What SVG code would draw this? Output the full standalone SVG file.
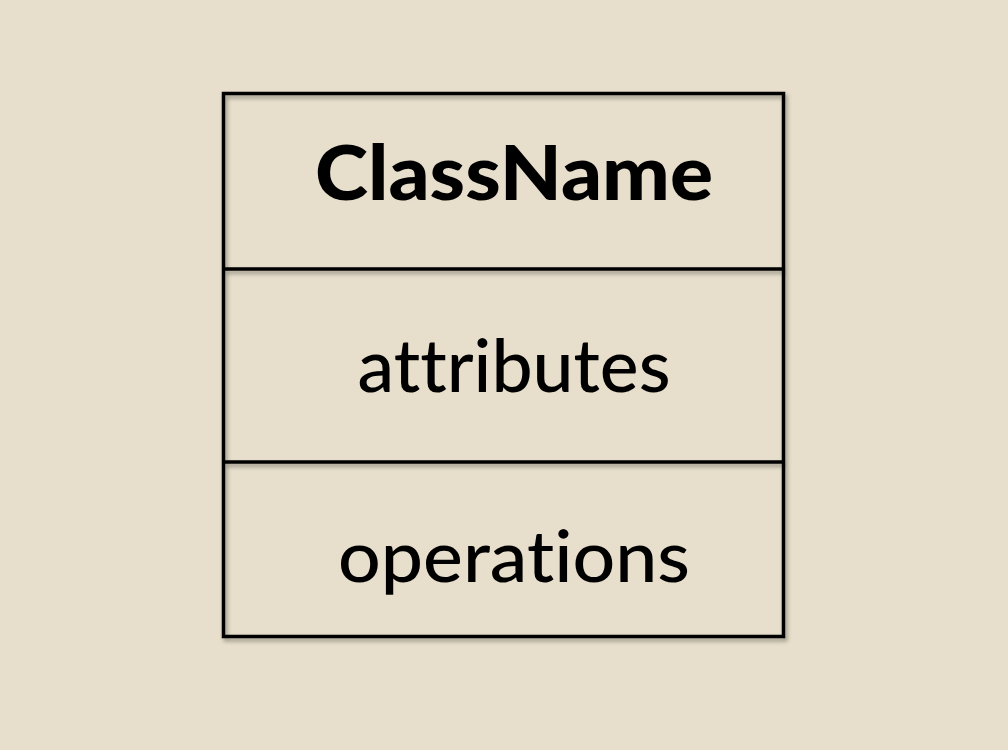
<svg xmlns="http://www.w3.org/2000/svg" width="1008" height="750" viewBox="0 0 1008 750">
<defs>
<style>
.box{fill:none;stroke:#000;stroke-width:3.5}
.t{font-family:"Lato","DejaVu Sans",sans-serif;fill:#000;text-anchor:middle;font-variant-ligatures:none;font-feature-settings:"liga" 0,"clig" 0}
</style>
<filter id="sh" x="-5%" y="-5%" width="110%" height="110%">
<feDropShadow dx="2" dy="3" stdDeviation="2" flood-color="#000" flood-opacity="0.35"/>
</filter>
</defs>
<rect width="1008" height="750" fill="#E7DFCC"/>
<g id="class" filter="url(#sh)">
<rect class="box" x="223.5" y="93.5" width="560" height="543"/>
<line class="box" x1="223.5" y1="269" x2="783.5" y2="269"/>
<line class="box" x1="223.5" y1="462" x2="783.5" y2="462"/>
</g>
<g id="name"><text class="t" x="514" y="200" font-size="77" font-weight="900" textLength="398" lengthAdjust="spacingAndGlyphs">ClassName</text></g>
<g id="attrs"><text class="t" x="514" y="392" font-size="74" font-weight="500" textLength="313" lengthAdjust="spacingAndGlyphs">attributes</text></g>
<g id="ops"><text class="t" x="514" y="582" font-size="72" font-weight="500" textLength="352" lengthAdjust="spacingAndGlyphs">operations</text></g>
</svg>
